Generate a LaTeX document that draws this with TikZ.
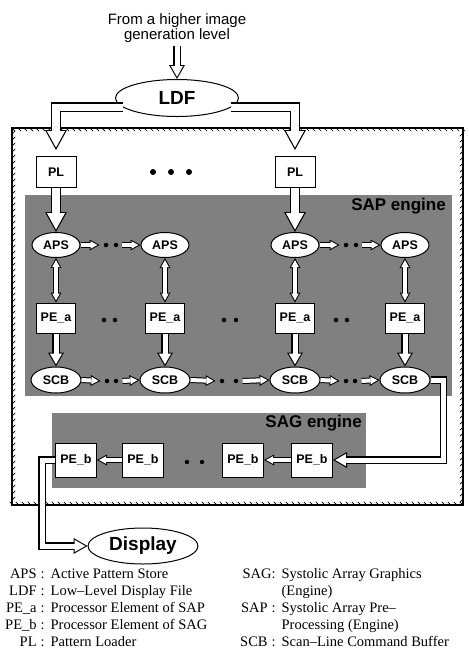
\documentclass[tikz,border=0pt]{standalone}
\usepackage{fontspec}
\setmainfont{Liberation Serif}
\newfontfamily\labfont{Liberation Sans}
\usetikzlibrary{arrows.meta,decorations.pathreplacing,shapes.geometric}
\tikzset{
  unitbox/.style={draw,line width=1pt,fill=white,minimum width=40pt,minimum height=31pt,inner sep=0pt,font=\labfont\bfseries\fontsize{12.5}{13}\selectfont},
  unitell/.style={ellipse,draw,line width=1pt,fill=white,minimum width=48pt,minimum height=25pt,inner sep=0pt,font=\labfont\bfseries\fontsize{12.5}{13}\selectfont},
  bigell/.style={ellipse,draw,line width=1pt,fill=white,inner sep=0pt,font=\labfont\bfseries\fontsize{19}{20}\selectfont},
  engine/.style={fill=black!50},
  enginelabel/.style={anchor=east,inner sep=0pt,font=\labfont\bfseries\fontsize{17}{18}\selectfont},
  dot/.style={circle,fill=black,inner sep=0pt,minimum size=4.5pt},
  wall/.style={draw,line width=1.1pt,fill=white,
    postaction={decorate,draw,line width=.7pt,
      decoration={border,segment length=6pt,amplitude=4.5pt,angle=-45}}},
  % hollow block arrows: white core over a black body
  bigarr/.style={draw=white,line width=7.6pt,line join=miter,
    -{Triangle[length=16.3pt,width=17.9pt,line width=0pt]},shorten >=2.5pt,
    preaction={draw=black,line width=10pt,
      -{Triangle[length=20pt,width=22pt,line width=0pt]},shorten >=0pt}},
  midarr/.style={draw=white,line width=5pt,line join=miter,
    -{Triangle[length=10.7pt,width=12.2pt,line width=0pt]},shorten >=2.2pt,
    preaction={draw=black,line width=7.2pt,
      -{Triangle[length=14pt,width=16pt,line width=0pt]},shorten >=0pt}},
  smallarr/.style={draw=white,line width=4pt,line join=miter,
    -{Triangle[length=6.9pt,width=7.6pt,line width=0pt]},shorten >=2.1pt,
    preaction={draw=black,line width=6pt,
      -{Triangle[length=10pt,width=11pt,line width=0pt]},shorten >=0pt}},
  smallboth/.style={draw=white,line width=4pt,
    {Triangle[length=6.9pt,width=7.6pt,line width=0pt]}-{Triangle[length=6.9pt,width=7.6pt,line width=0pt]},
    shorten >=2.1pt,shorten <=2.1pt,
    preaction={draw=black,line width=6pt,
      {Triangle[length=10pt,width=11pt,line width=0pt]}-{Triangle[length=10pt,width=11pt,line width=0pt]},
      shorten >=0pt,shorten <=0pt}}
}
\begin{document}
\begin{tikzpicture}[x=1pt,y=-1pt]
  \useasboundingbox (0,0) rectangle (469,657);
  % outer wall and the two engines
  \draw[wall] (12,128) -- (463,128) -- (463,505) -- (12,505) -- cycle;
  \fill[engine] (25,195) rectangle (452,396);
  \fill[engine] (52,413) rectangle (366,488);
  \node[enginelabel] (saplab) at (446,206) {SAP engine};
  \node[enginelabel] (saglab) at (362,423) {SAG engine};

  % input and LDF
  \node[align=center,font=\labfont\fontsize{15}{15.5}\selectfont] (src) at (177,28) {From a higher image\\generation level};
  \node[bigell,minimum width=123pt,minimum height=37pt] (ldf) at (177,98) {LDF};

  \node[unitbox] (pl1) at (56,172) {PL};
  \node[unitbox] (pl2) at (295,172) {PL};
  \foreach \n/\x in {t1/153,t2/171,t3/189}
    \node[dot,minimum size=6pt] (\n) at (\x,172) {};

  % SAP columns
  \foreach \i/\x in {1/56,2/165,3/295,4/405}{
    \node[unitell] (aps\i) at (\x,245) {APS};
    \node[unitbox,minimum width=39pt,minimum height=30pt] (pea\i) at (\x,318) {PE\_a};
    \node[unitell,minimum width=50pt,minimum height=26pt] (scb\i) at (\x,380) {SCB};
    \draw[smallboth] (aps\i.south) -- (pea\i.north);
    \draw[midarr] (pea\i.south) -- (scb\i.north);
  }
  \foreach \n/\x in {a1/106,a2/116,a3/346,a4/356}
    \node[dot] (\n) at (\x,245) {};
  \foreach \n/\x in {p1/104,p2/115,p3/224,p4/236,p5/336,p6/347}
    \node[dot] (\n) at (\x,320) {};
  \foreach \n/\x in {s1/107,s2/116,s3/222,s4/236,s5/346,s6/355}
    \node[dot] (\n) at (\x,381) {};

  % SAG row
  \foreach \i/\x in {1/76,2/143,3/243,4/312}
    \node[unitbox,minimum width=41pt,minimum height=34pt] (peb\i) at (\x,460) {PE\_b};
  \foreach \n/\x in {b1/187,b2/202}
    \node[dot] (\n) at (\x,462) {};

  \node[bigell,minimum width=110pt,minimum height=36pt] (disp) at (143,546) {Display};

  % connectors
  \draw[midarr] (src.south) -- (ldf.north);
  \draw[bigarr] (ldf.190) -| ([yshift=6pt]pl1.north);
  \draw[bigarr] (ldf.-10) -| ([yshift=6pt]pl2.north);
  \draw[bigarr] (pl1.south) -- (aps1.north);
  \draw[bigarr] (pl2.south) -- (aps3.north);

  \draw[smallarr] (aps1.east) -- ([xshift=-4pt]a1.west);
  \draw[smallarr] ([xshift=4pt]a2.east) -- (aps2.west);
  \draw[smallarr] (aps3.east) -- ([xshift=-4pt]a3.west);
  \draw[smallarr] ([xshift=4pt]a4.east) -- (aps4.west);

  \draw[smallarr] (scb1.east) -- ([xshift=-4pt]s1.west);
  \draw[smallarr] ([xshift=4pt]s2.east) -- (scb2.west);
  \draw[smallarr] (scb2.east) -- ([xshift=-4pt]s3.west);
  \draw[smallarr] ([xshift=4pt]s4.east) -- (scb3.west);
  \draw[smallarr] (scb3.east) -- ([xshift=-4pt]s5.west);
  \draw[smallarr] ([xshift=4pt]s6.east) -- (scb4.west);

  \draw[smallarr] (peb2.west) -- (peb1.east);
  \draw[smallarr] (peb4.west) -- (peb3.east);

  \draw[midarr] (scb4.east) -- ++(13,0) |- (peb4.east);
  \draw[midarr] (peb1.west) -- ++(-13,0) |- (disp.west);

  % key
  \node[anchor=north west,inner sep=0pt,font=\fontsize{14.5}{17}\selectfont] (keyl) at (5,566)
    {\begin{tabular}{@{}r@{\hspace{6pt}}l@{}}
      APS\hspace{4pt}: & Active Pattern Store\\
      LDF\hspace{4pt}: & Low–Level Display File\\
      PE\_a\hspace{4pt}: & Processor Element of SAP\\
      PE\_b\hspace{4pt}: & Processor Element of SAG\\
      PL\hspace{4pt}: & Pattern Loader
    \end{tabular}};
  \node[anchor=north west,inner sep=0pt,font=\fontsize{14.5}{17}\selectfont] (keyr) at (240,566)
    {\begin{tabular}{@{}r@{\hspace{6pt}}l@{}}
      SAG: & Systolic Array Graphics\\
       & (Engine)\\
      SAP\hspace{4pt}: & Systolic Array Pre–\\
       & Processing (Engine)\\
      SCB\hspace{4pt}: & Scan–Line Command Buffer
    \end{tabular}};
\end{tikzpicture}
\end{document}
